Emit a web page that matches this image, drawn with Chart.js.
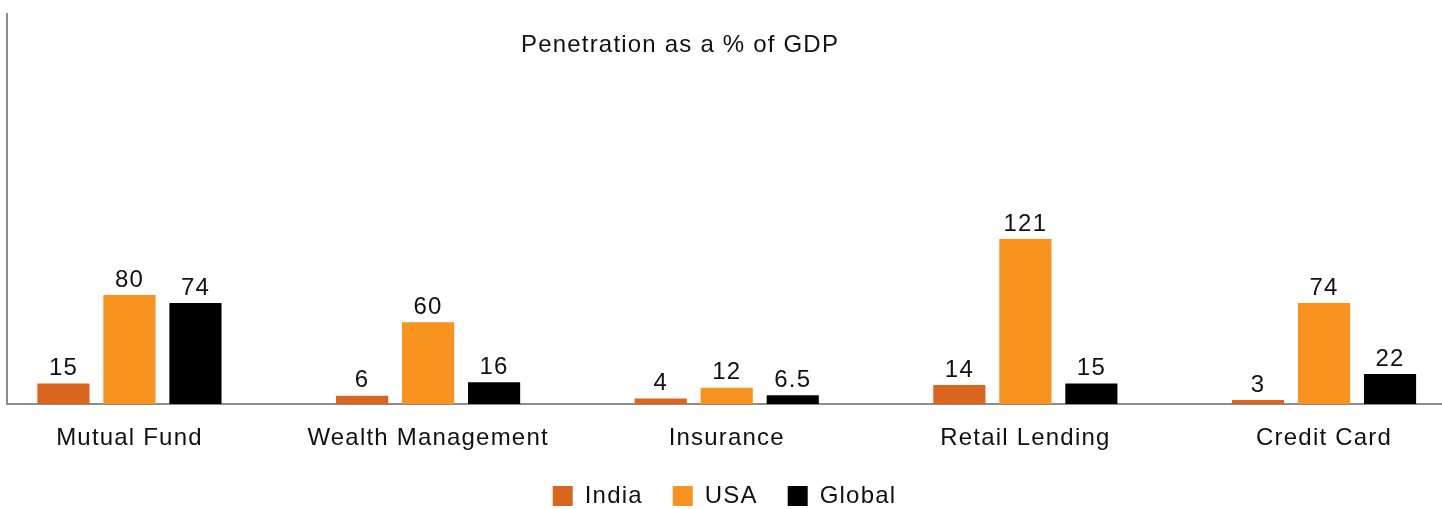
<!DOCTYPE html>
<html>
<head>
<meta charset="utf-8">
<script src="https://cdn.jsdelivr.net/npm/chart.js@4/dist/chart.umd.min.js"></script>
<style>
  html, body { margin: 0; padding: 0; background: #fff; }
  #wrap { width: 1442px; height: 509px; position: relative; }
</style>
</head>
<body>
<div id="wrap"><canvas id="gdpChart"></canvas></div>
<script>
const categories = ['Mutual Fund', 'Wealth Management', 'Insurance', 'Retail Lending', 'Credit Card'];
const seriesNames = ['India', 'USA', 'Global'];
const indiaValues = [15, 6, 4, 14, 3];
const usaValues = [80, 60, 12, 121, 74];
const globalValues = [74, 16, 6.5, 15, 22];

const FONT = '"Liberation Sans", Arial, Helvetica, sans-serif';
const SPACING = '1.2px';
const colors = {
    'India': '#D9651F',
    'USA': '#F7931E',
    'Global': '#000000'
};

// bars sit on a linear x scale so the plot can start left of the first group
function toPoints(values) {
    return values.map((v, i) => ({ x: i, y: v }));
}

// the source font runs a bit wider than Liberation Sans
const wideText = {
    id: 'wideText',
    beforeUpdate(chart) { chart.ctx.letterSpacing = SPACING; },
    beforeDraw(chart) { chart.ctx.letterSpacing = SPACING; }
};

// value above each bar
const barValueLabels = {
    id: 'barValueLabels',
    afterDatasetsDraw(chart) {
        const ctx = chart.ctx;
        ctx.save();
        ctx.font = '24px ' + FONT;
        ctx.fillStyle = '#111';
        ctx.textAlign = 'center';
        ctx.textBaseline = 'bottom';
        chart.data.datasets.forEach((ds, di) => {
            const meta = chart.getDatasetMeta(di);
            meta.data.forEach((bar, i) => {
                ctx.fillText(String(ds.data[i].y), bar.x, bar.y - 3);
            });
        });
        ctx.restore();
    }
};

// chart heading drawn inside the plot area
const innerTitle = {
    id: 'innerTitle',
    afterDraw(chart) {
        const { ctx, chartArea } = chart;
        ctx.save();
        ctx.font = '24px ' + FONT;
        ctx.fillStyle = '#111';
        ctx.textAlign = 'center';
        ctx.textBaseline = 'middle';
        ctx.fillText('Penetration as a % of GDP', chartArea.left + chartArea.width * 0.469, 45);
        ctx.restore();
    }
};

new Chart(document.getElementById('gdpChart'), {
    type: 'bar',
    data: {
        datasets: [
            { label: seriesNames[0], data: toPoints(indiaValues), backgroundColor: colors['India'] },
            { label: seriesNames[1], data: toPoints(usaValues), backgroundColor: colors['USA'] },
            { label: seriesNames[2], data: toPoints(globalValues), backgroundColor: colors['Global'] }
        ]
    },
    options: {
        responsive: true,
        maintainAspectRatio: false,
        animation: false,
        categoryPercentage: 0.663,
        barPercentage: 0.79,
        layout: { padding: { left: 7, top: 14, right: 0, bottom: 0 } },
        scales: {
            x: {
                type: 'linear',
                bounds: 'data',
                offset: false,
                min: -0.41,
                max: 4.395,
                grid: { display: false, drawTicks: false },
                border: { display: true, color: '#8c8c8c', width: 2 },
                ticks: {
                    autoSkip: false,
                    maxRotation: 0,
                    padding: 20,
                    color: '#111',
                    font: { family: FONT, size: 24 },
                    callback: (v) => categories[Math.round(v)] ?? ''
                },
                afterBuildTicks: (scale) => {
                    scale.ticks = categories.map((c, i) => ({ value: i }));
                },
                afterFit: (scale) => { scale.height = 50; }
            },
            y: {
                min: 0,
                max: 286,
                grid: { display: false, drawTicks: false },
                border: { display: true, color: '#8c8c8c', width: 2 },
                ticks: { display: false }
            }
        },
        plugins: {
            legend: {
                position: 'bottom',
                maxHeight: 55,
                labels: {
                    boxWidth: 20,
                    boxHeight: 20,
                    padding: 30,
                    color: '#111',
                    font: { family: FONT, size: 24 }
                }
            },
            title: { display: false },
            tooltip: { enabled: false }
        }
    },
    plugins: [wideText, barValueLabels, innerTitle]
});
</script>
</body>
</html>
